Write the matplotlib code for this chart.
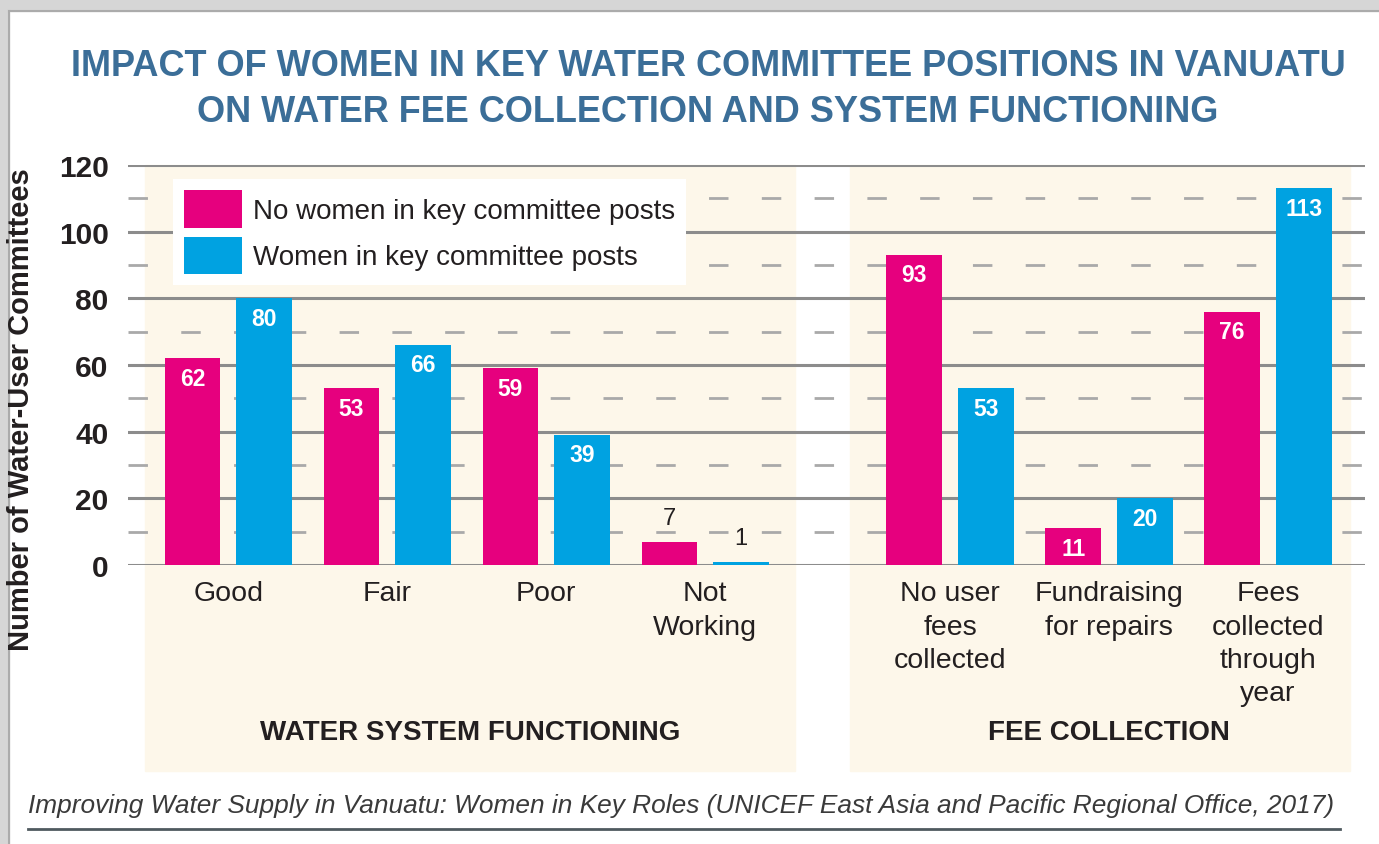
import numpy as np
import matplotlib.pyplot as plt
from matplotlib.patches import Rectangle
from matplotlib.lines import Line2D

# data
categories = ['Good', 'Fair', 'Poor', 'Not\nWorking',
              'No user\nfees\ncollected', 'Fundraising\nfor repairs', 'Fees\ncollected\nthrough\nyear']
no_women = [62, 53, 59, 7, 93, 11, 76]
women = [80, 66, 39, 1, 53, 20, 113]
series_names = ['No women in key committee posts', 'Women in key committee posts']
sections = ['WATER SYSTEM FUNCTIONING', 'FEE COLLECTION']
yticks = [0, 20, 40, 60, 80, 100, 120]

pink = '#e6007e'
blue = '#00a2e1'
cream = '#fdf7ea'
dark = '#231f20'
fam = ['Liberation Sans', 'DejaVu Sans']
title_col = '#3b6e98'

W, H = 1379, 845
fig = plt.figure(figsize=(W / 100, H / 100), dpi=100)
fig.patch.set_facecolor('white')

def fx(px):
    return px / W

def fy(py):
    return 1 - py / H

# grey shadow frame on top/left
fig.add_artist(Rectangle((0, fy(12)), 1, 12 / H, transform=fig.transFigure, color='#d6d6d6', zorder=-2))
fig.add_artist(Rectangle((0, 0), 9 / W, 1, transform=fig.transFigure, color='#d6d6d6', zorder=-2))
fig.add_artist(Line2D([fx(9), 1], [fy(12), fy(12)], transform=fig.transFigure, color='#ababab', lw=1.5, zorder=-1))
fig.add_artist(Line2D([fx(9), fx(9)], [0, fy(12)], transform=fig.transFigure, color='#ababab', lw=1.5, zorder=-1))

# cream panels behind the two sections
fig.add_artist(Rectangle((fx(145), fy(772)), (795 - 145) / W, (772 - 166) / H,
                         transform=fig.transFigure, color=cream, zorder=-1))
fig.add_artist(Rectangle((fx(850), fy(772)), (1350 - 850) / W, (772 - 166) / H,
                         transform=fig.transFigure, color=cream, zorder=-1))

ax = fig.add_axes([fx(128), fy(566), (1365 - 128) / W, 400 / H])
ax.set_facecolor('none')

x = np.array([0, 1, 2, 3, 4.54, 5.54, 6.54])
bw = 0.35
off = 0.225

# grid: solid at 20s, dashed at the 10s between
for v in yticks:
    ax.axhline(v, color='#8c8c8c', lw=2.2, zorder=1)
for v in range(10, 120, 20):
    ax.axhline(v, color='#a9a9a9', lw=2.0, dashes=(7, 12), zorder=1)

b1 = ax.bar(x - off, no_women, bw, color=pink, zorder=3, label=series_names[0])
b2 = ax.bar(x + off, women, bw, color=blue, zorder=3, label=series_names[1])

for bars, vals in [(b1, no_women), (b2, women)]:
    for r, v in zip(bars, vals):
        cx = r.get_x() + r.get_width() / 2
        if v >= 10:
            ax.annotate(str(v), (cx, v), xytext=(0, -6), textcoords='offset points',
                        ha='center', va='top', color='white', fontsize=16.5,
                        fontweight='bold', family=fam, zorder=4)
        else:
            ax.annotate(str(v), (cx, v), xytext=(0, 9), textcoords='offset points',
                        ha='center', va='bottom', color=dark, fontsize=17,
                        family=fam, zorder=4)

ax.set_xlim(-0.63, 7.15)
ax.set_ylim(0, 120)
ax.set_yticks(yticks)
ax.set_yticklabels([str(v) for v in yticks], fontsize=21.5, fontweight='bold', family=fam, color=dark)
ax.tick_params(axis='y', length=0, pad=14)
ax.set_xticks([])
for s in ax.spines.values():
    s.set_visible(False)

# category labels
for xi, c in zip(x, categories):
    ax.text(xi, -4.6, c, ha='center', va='top', fontsize=20.5, family=fam,
            color=dark, linespacing=1.36)

ax.text(1.52, -50, sections[0], ha='center', va='center', fontsize=20,
        fontweight='bold', family=fam, color=dark)
ax.text(5.54, -50, sections[1], ha='center', va='center', fontsize=20,
        fontweight='bold', family=fam, color=dark)

leg = ax.legend(loc='upper left', bbox_to_anchor=(0.036, 0.965),
                prop={'family': fam, 'size': 20}, frameon=True, fancybox=False,
                handlelength=2.1, handleheight=1.7, handletextpad=0.4,
                labelspacing=0.32, borderpad=0.4, borderaxespad=0)
leg.get_frame().set_facecolor('white')
leg.get_frame().set_edgecolor('none')
leg.get_frame().set_alpha(1)
for t in leg.get_texts():
    t.set_color(dark)

ax.set_ylabel('Number of Water-User Committees', fontsize=21, fontweight='bold',
              family=fam, color=dark)
ax.yaxis.set_label_coords(fx(35 - 128) / ((1365 - 128) / W), 0.39)

fig.text(fx(708), fy(66), 'IMPACT OF WOMEN IN KEY WATER COMMITTEE POSITIONS IN VANUATU',
         ha='center', va='center', fontsize=26, fontweight='bold',
         family=fam, color=title_col)
fig.text(fx(708), fy(112), 'ON WATER FEE COLLECTION AND SYSTEM FUNCTIONING',
         ha='center', va='center', fontsize=26, fontweight='bold',
         family=fam, color=title_col)

fig.text(fx(28), fy(806),
         'Improving Water Supply in Vanuatu: Women in Key Roles (UNICEF East Asia and Pacific Regional Office, 2017)',
         ha='left', va='center', fontsize=18.9, style='italic', family=fam, color='#3a3a3a')
fig.add_artist(Line2D([fx(28), fx(1340)], [fy(830), fy(830)], transform=fig.transFigure,
                      color='#4f5a5f', lw=2))

fig.savefig('out.png', dpi=100)
